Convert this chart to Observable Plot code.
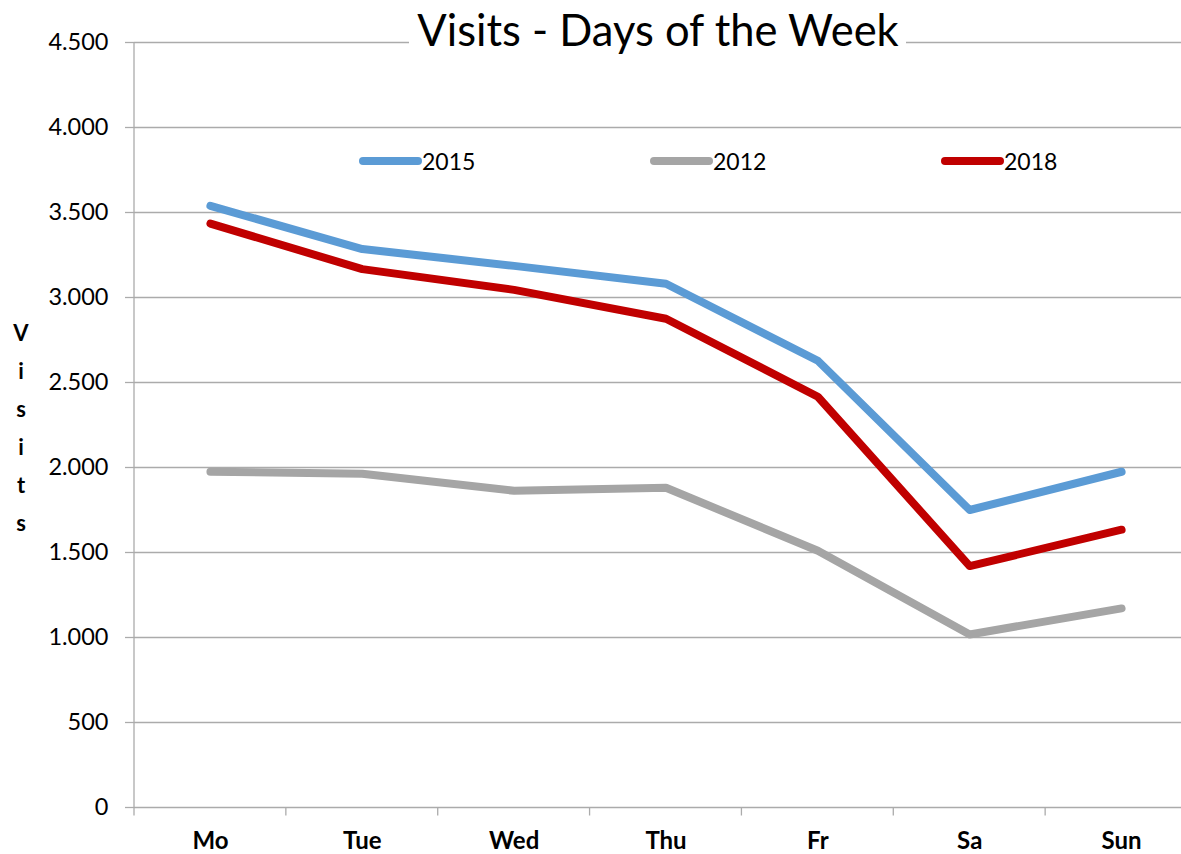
<!DOCTYPE html>
<html><head><meta charset="utf-8">
<script src="https://cdn.jsdelivr.net/npm/d3@7"></script>
<script src="https://cdn.jsdelivr.net/npm/@observablehq/plot@0.6"></script>
<style>
html,body{margin:0;padding:0;background:#fff;overflow:hidden;}
#chart{width:1181px;height:854px;overflow:hidden;}
#chart svg{display:block;max-width:none !important;}
</style></head><body><div id="chart"></div>
<script>
const days = ["Mo","Tue","Wed","Thu","Fr","Sa","Sun"];
const visits2015 = [3539,3285,3186,3081,2628,1750,1975];
const visits2012 = [1975,1963,1863,1881,1510,1018,1171];
const visits2018 = [3435,3167,3045,2875,2416,1420,1634];
const seriesNames = ["2015","2012","2018"];
const seriesColors = ["#5B9BD5","#A5A5A5","#C00000"];
const yTicks = [0,500,1000,1500,2000,2500,3000,3500,4000,4500];
const titleText = "Visits - Days of the Week";
const yLabel = "Visits";

const seriesValues = [visits2015, visits2012, visits2018];
const rows = [];
seriesNames.forEach((s, k) => days.forEach((d, i) => rows.push({day: d, value: seriesValues[k][i], series: s})));

const fmt = d3.formatLocale({decimal: ",", thousands: ".", grouping: [3], currency: ["", ""]}).format(",");
const gridColor = "#ababab";
const font = "Lato, 'Open Sans', sans-serif";

const chart = Plot.plot({
  width: 1200, height: 854,
  marginLeft: 134, marginRight: 3, marginTop: 42, marginBottom: 47,
  style: {fontFamily: font, background: "#fff", color: "#000", overflow: "visible", maxWidth: "none"},
  x: {type: "point", domain: days, padding: 0.5, round: false, label: null},
  y: {domain: [0, 4500], label: null},
  color: {domain: seriesNames, range: seriesColors},
  marks: [
    Plot.gridY(yTicks, {stroke: gridColor, strokeOpacity: 1, strokeWidth: 1.3}),
    Plot.axisY(yTicks, {tickFormat: fmt, tickSize: 9, tickPadding: 17, fontSize: 23.5, stroke: gridColor, strokeWidth: 1.3, fill: "#000", label: null}),
    Plot.axisX({tickSize: 0, tickPadding: 24, fontSize: 24, fontWeight: "bold", fill: "#000", label: null}),
    Plot.line(rows, {x: "day", y: "value", z: "series", stroke: "series", strokeWidth: 8, strokeLinecap: "round", strokeLinejoin: "round"})
  ]
});
chart.style.maxWidth = "none";
document.getElementById("chart").appendChild(chart);

const svg = d3.select(chart);
const xs = chart.scale("x"), ys = chart.scale("y");
const step = xs.apply(days[1]) - xs.apply(days[0]);
const y0 = ys.apply(0), yTop = ys.apply(4500);
const xLeft = xs.apply(days[0]) - step / 2;

// left axis line
svg.append("line").attr("x1", xLeft).attr("x2", xLeft).attr("y1", yTop).attr("y2", y0)
  .attr("stroke", gridColor).attr("stroke-width", 1.3);
// category boundary ticks
days.forEach(d => {
  const bx = xs.apply(d) - step / 2;
  svg.append("line").attr("x1", bx).attr("x2", bx).attr("y1", y0).attr("y2", y0 + 8.5)
    .attr("stroke", gridColor).attr("stroke-width", 1.3);
});

// title with white box
svg.append("rect").attr("x", 409).attr("y", 28).attr("width", 497).attr("height", 28).attr("fill", "#fff");
svg.append("text").attr("x", 658).attr("y", 46).attr("text-anchor", "middle")
  .attr("font-family", font).attr("font-size", 43.5).attr("fill", "#000").text(titleText);

// vertical stacked axis label
yLabel.split("").forEach((ch, i) => {
  svg.append("text").attr("x", 21).attr("y", 333 + i * 38).attr("dy", "0.36em")
    .attr("text-anchor", "middle").attr("font-family", font).attr("font-size", 22)
    .attr("font-weight", "bold").attr("fill", "#000").text(ch);
});

// legend
const legendX0 = 363, legendGap = 291, legendY = 161;
seriesNames.forEach((s, i) => {
  const lx = legendX0 + i * legendGap;
  svg.append("line").attr("x1", lx).attr("x2", lx + 55).attr("y1", legendY).attr("y2", legendY)
    .attr("stroke", seriesColors[i]).attr("stroke-width", 8).attr("stroke-linecap", "round");
  svg.append("text").attr("x", lx + 59).attr("y", legendY + 8.5).attr("text-anchor", "start")
    .attr("font-family", font).attr("font-size", 23).attr("fill", "#000").text(s);
});
</script>
</body></html>
